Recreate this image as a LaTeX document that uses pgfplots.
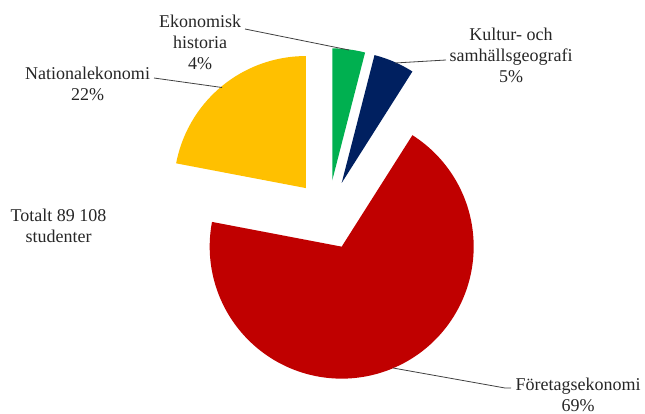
\documentclass[border=0pt]{standalone}
\usepackage{pgfplots}
\pgfplotsset{compat=1.18}
\usepackage{fontspec}
\setmainfont{Liberation Serif}
\definecolor{cgreen}{RGB}{0,176,80}
\definecolor{cnavy}{RGB}{0,32,96}
\definecolor{cred}{RGB}{192,0,0}
\definecolor{cyellow}{RGB}{255,192,0}
\tikzset{lbl/.style={font=\fontsize{18bp}{21bp}\selectfont, align=center, text=black!85, inner sep=0pt}}
\begin{document}
\begin{tikzpicture}
% shares in percent (clockwise from 12 o'clock)
\def\pG{4}\def\pN{5}\def\pR{69}\def\pY{22}
\def\R{132}\def\E{34.7}\def\CX{327.9}\def\CY{214.8}
\pgfmathsetmacro{\aG}{0}
\pgfmathsetmacro{\bG}{\aG+3.6*\pG}
\pgfmathsetmacro{\aN}{\bG}
\pgfmathsetmacro{\bN}{\aN+3.6*\pN}
\pgfmathsetmacro{\aR}{\bN}
\pgfmathsetmacro{\bR}{\aR+3.6*\pR}
\pgfmathsetmacro{\aY}{\bR}
\pgfmathsetmacro{\bY}{\aY+3.6*\pY}
\pgfmathsetmacro{\xG}{\CX+\E*sin((\aG+\bG)/2)}\pgfmathsetmacro{\yG}{\CY-\E*cos((\aG+\bG)/2)}
\pgfmathsetmacro{\xN}{\CX+\E*sin((\aN+\bN)/2)}\pgfmathsetmacro{\yN}{\CY-\E*cos((\aN+\bN)/2)}
\pgfmathsetmacro{\xR}{\CX+\E*sin((\aR+\bR)/2)}\pgfmathsetmacro{\yR}{\CY-\E*cos((\aR+\bR)/2)}
\pgfmathsetmacro{\xY}{\CX+\E*sin((\aY+\bY)/2)}\pgfmathsetmacro{\yY}{\CY-\E*cos((\aY+\bY)/2)}
\begin{axis}[
  scale only axis, width=645bp, height=414bp,
  xmin=0, xmax=645, ymin=0, ymax=414, y dir=reverse,
  axis lines=none, clip=false,
]
\path (axis cs:0,0) rectangle (axis cs:645,414);
\addplot[fill=cgreen, draw=none, domain=\aG:\bG, samples=20, variable=\t]
  ({\xG+\R*sin(\t)},{\yG-\R*cos(\t)}) -- (axis cs:\xG,\yG) -- cycle;
\addplot[fill=cnavy, draw=none, domain=\aN:\bN, samples=20, variable=\t]
  ({\xN+\R*sin(\t)},{\yN-\R*cos(\t)}) -- (axis cs:\xN,\yN) -- cycle;
\addplot[fill=cred, draw=none, domain=\aR:\bR, samples=150, variable=\t]
  ({\xR+\R*sin(\t)},{\yR-\R*cos(\t)}) -- (axis cs:\xR,\yR) -- cycle;
\addplot[fill=cyellow, draw=none, domain=\aY:\bY, samples=60, variable=\t]
  ({\xY+\R*sin(\t)},{\yY-\R*cos(\t)}) -- (axis cs:\xY,\yY) -- cycle;
% leader lines
\addplot[black!75, line width=0.8pt] coordinates {(245,29) (349,50)};
\addplot[black!75, line width=0.8pt] coordinates {(154,78) (222,87.5)};
\addplot[black!75, line width=0.8pt] coordinates {(395,63) (446,60)};
\addplot[black!75, line width=0.8pt] coordinates {(393,368) (505,388) (511,388)};
% labels
\node[lbl] at (axis cs:200,42.5) {Ekonomisk\\historia\\4\%};
\node[lbl] at (axis cs:87.5,84) {Nationalekonomi\\22\%};
\node[lbl] at (axis cs:511,55.5) {Kultur- och\\samhällsgeografi\\5\%};
\node[lbl] at (axis cs:58.5,226) {Totalt 89 108\\studenter};
\node[lbl] at (axis cs:578,395) {Företagsekonomi\\69\%};
\end{axis}
\end{tikzpicture}
\end{document}
